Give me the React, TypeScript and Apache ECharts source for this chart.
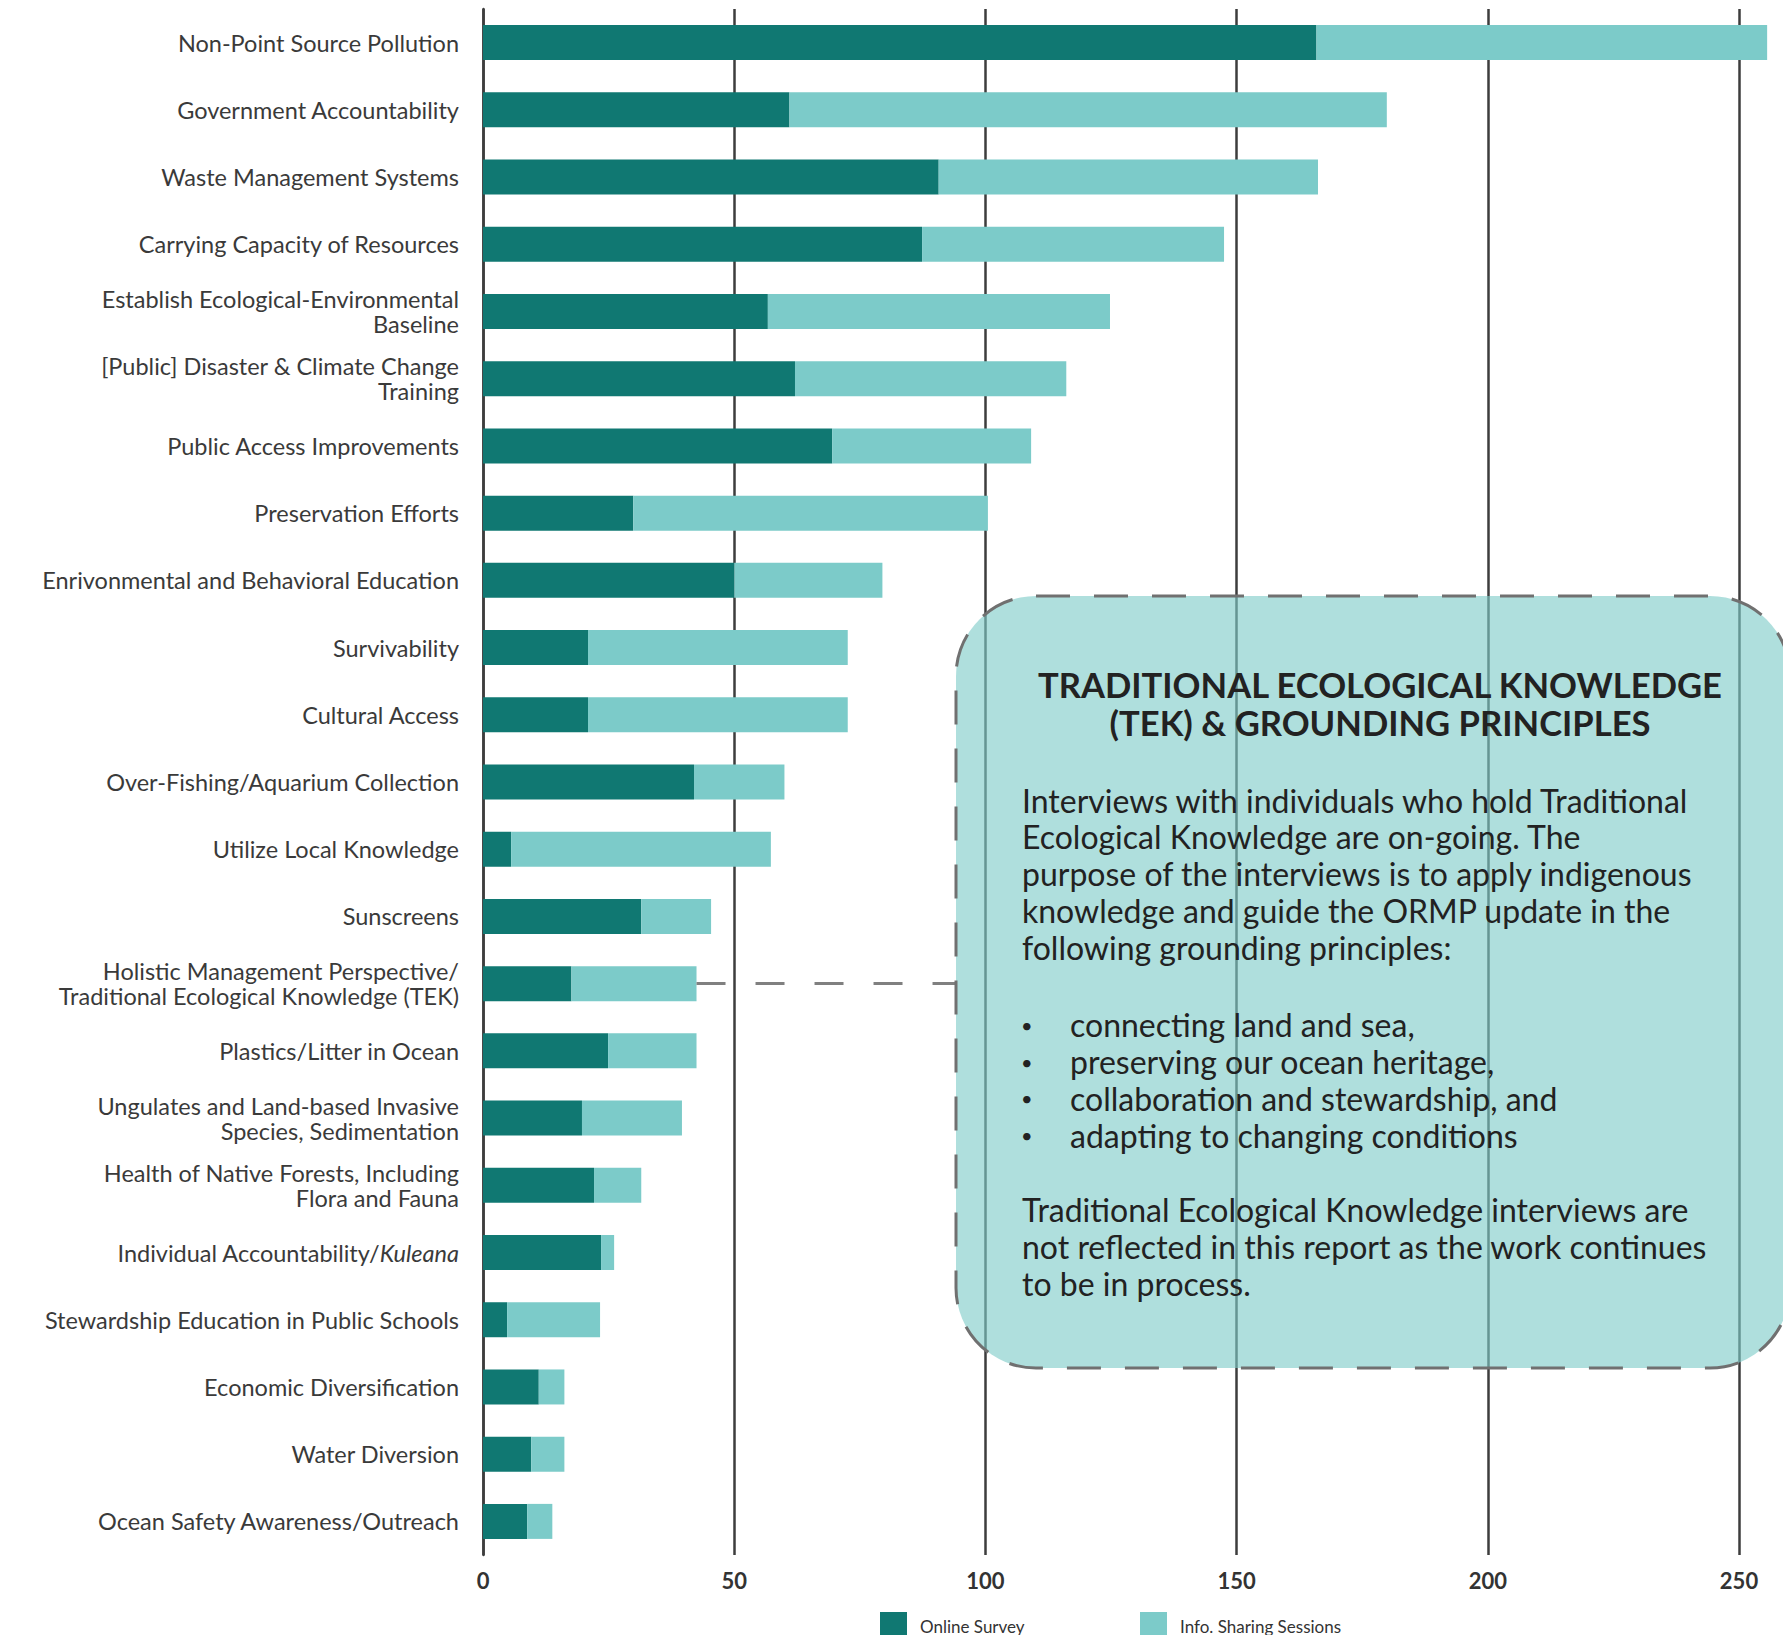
import React, { useEffect, useRef } from "react";
import * as echarts from "echarts";

const categories = [
  "Non-Point Source Pollution",
  "Government Accountability",
  "Waste Management Systems",
  "Carrying Capacity of Resources",
  "Establish Ecological-Environmental\nBaseline",
  "[Public] Disaster & Climate Change\nTraining",
  "Public Access Improvements",
  "Preservation Efforts",
  "Enrivonmental and Behavioral Education",
  "Survivability",
  "Cultural Access",
  "Over-Fishing/Aquarium Collection",
  "Utilize Local Knowledge",
  "Sunscreens",
  "Holistic Management Perspective/\nTraditional Ecological Knowledge (TEK)",
  "Plastics/Litter in Ocean",
  "Ungulates and Land-based Invasive\nSpecies, Sedimentation",
  "Health of Native Forests, Including\nFlora and Fauna",
  "Individual Accountability/Kuleana",
  "Stewardship Education in Public Schools",
  "Economic Diversification",
  "Water Diversion",
  "Ocean Safety Awareness/Outreach",
];

const onlineSurvey = [165.9, 61.0, 90.7, 87.4, 56.7, 62.1, 69.5, 29.9, 50.0, 20.9, 20.9, 42.0, 5.6, 31.5, 17.6, 24.9, 19.7, 22.1, 23.5, 4.8, 11.1, 9.6, 8.8];
const infoSessions = [89.7, 118.9, 75.5, 60.1, 68.1, 54.0, 39.6, 70.6, 29.5, 51.7, 51.7, 18.0, 51.7, 13.9, 24.9, 17.6, 19.9, 9.4, 2.6, 18.5, 5.1, 6.6, 5.0];

const seriesNames = ["Online Survey", "Info. Sharing Sessions"];
const xTicks = { min: 0, max: 250, interval: 50 };

const calloutTitle = ["TRADITIONAL ECOLOGICAL KNOWLEDGE", "(TEK) & GROUNDING PRINCIPLES"];
const calloutPara1 = [
  "Interviews with individuals who hold Traditional",
  "Ecological Knowledge are on-going. The",
  "purpose of the interviews is to apply indigenous",
  "knowledge and guide the ORMP update in the",
  "following grounding principles:",
];
const calloutBullets = [
  "connecting land and sea,",
  "preserving our ocean heritage,",
  "collaboration and stewardship, and",
  "adapting to changing conditions",
];
const calloutPara3 = [
  "Traditional Ecological Knowledge interviews are",
  "not reflected in this report as the work continues",
  "to be in process.",
];

const linkedIndex = 14;
const calloutEdgeValue = 94.1;

const DARK = "#107872";
const LIGHT = "#7CCBC9";
const FONT = "Lato";
const LABEL_SIZE = 23.5;

export default function App() {
  const ref = useRef<HTMLDivElement>(null);
  useEffect(() => {
    if (!ref.current) return;
    const chart = echarts.init(ref.current, null, { renderer: "svg" });
    const bodyFont = `32px ${FONT}`;
    const graphics: any[] = [
      {
        type: "rect",
        z: 100,
        shape: { x: 956, y: 596, width: 834, height: 772, r: 80 },
        style: { fill: "rgba(126,204,200,0.62)", stroke: "#707070", lineWidth: 3, lineDash: [34, 24] },
      },
      {
        type: "text",
        z: 101,
        x: 1380,
        y: 665,
        style: {
          text: calloutTitle.join("\n"),
          font: `bold 34.6px ${FONT}`,
          fill: "#222",
          align: "center",
          verticalAlign: "top",
          lineHeight: 38,
        },
      },
      {
        type: "text",
        z: 101,
        x: 1022,
        y: 781.6,
        style: { text: calloutPara1.join("\n"), font: bodyFont, fill: "#222", verticalAlign: "top", lineHeight: 36.8 },
      },
      {
        type: "text",
        z: 101,
        x: 1021,
        y: 1006.6,
        style: { text: calloutBullets.map(() => "•").join("\n"), font: `20px ${FONT}`, fill: "#222", verticalAlign: "top", lineHeight: 36.7 },
      },
      {
        type: "text",
        z: 101,
        x: 1070,
        y: 1006.6,
        style: { text: calloutBullets.join("\n"), font: bodyFont, fill: "#222", verticalAlign: "top", lineHeight: 36.7 },
      },
      {
        type: "text",
        z: 101,
        x: 1022,
        y: 1191.6,
        style: { text: calloutPara3.join("\n"), font: bodyFont, fill: "#222", verticalAlign: "top", lineHeight: 36.7 },
      },
    ];

    const legendCommon = {
      top: 1612,
      padding: 0,
      itemWidth: 27,
      itemHeight: 28,
      icon: "rect",
      textStyle: { fontFamily: FONT, fontSize: 17, color: "#333", padding: [0, 0, 0, 8] },
      selectedMode: false,
    };

    chart.setOption({
      animation: false,
      backgroundColor: "#ffffff",
      grid: { left: 483, right: 44, top: 9, bottom: 80, containLabel: false },
      legend: [
        { ...legendCommon, left: 880, data: [seriesNames[0]] },
        { ...legendCommon, left: 1140, data: [seriesNames[1]] },
      ],
      xAxis: {
        type: "value",
        min: xTicks.min,
        max: xTicks.max,
        interval: xTicks.interval,
        axisLine: { show: false },
        axisTick: { show: false },
        axisLabel: { fontFamily: FONT, fontSize: 22, fontWeight: "bold", color: "#333", margin: 14 },
        splitLine: { show: true, lineStyle: { color: "#3d3d3d", width: 2.5 } },
      },
      yAxis: {
        type: "category",
        inverse: true,
        data: categories,
        axisLine: { show: true, onZero: false, lineStyle: { color: "#3d3d3d", width: 2.5 } },
        axisTick: { show: false },
        axisLabel: {
          fontFamily: FONT,
          fontSize: LABEL_SIZE,
          color: "#3a3a3a",
          margin: 24,
          lineHeight: 25,
          align: "right",
          formatter: (v: string) => {
            if (v.endsWith("/Kuleana")) return "{n|Individual Accountability/}{i|Kuleana}";
            return v;
          },
          rich: {
            n: { fontFamily: FONT, fontSize: LABEL_SIZE, color: "#3a3a3a" },
            i: { fontFamily: FONT, fontSize: LABEL_SIZE, color: "#3a3a3a", fontStyle: "italic" },
          },
        },
      },
      graphic: graphics,
      series: [
        {
          name: seriesNames[0],
          type: "bar",
          stack: "total",
          barWidth: 35,
          clip: false,
          itemStyle: { color: DARK },
          data: onlineSurvey,
        },
        {
          name: seriesNames[1],
          type: "bar",
          stack: "total",
          barWidth: 35,
          clip: false,
          itemStyle: { color: LIGHT },
          data: infoSessions,
          markLine: {
            silent: true,
            symbol: "none",
            label: { show: false },
            lineStyle: { color: "#808080", width: 3, type: [29, 30] },
            data: [
              [
                { coord: [onlineSurvey[linkedIndex] + infoSessions[linkedIndex], categories[linkedIndex]] },
                { coord: [calloutEdgeValue, categories[linkedIndex]] },
              ],
            ],
          },
        },
      ],
    });
    return () => chart.dispose();
  }, []);
  return <div ref={ref} style={{ position: "absolute", left: 0, top: 0, width: 1783, height: 1635 }} />;
}
